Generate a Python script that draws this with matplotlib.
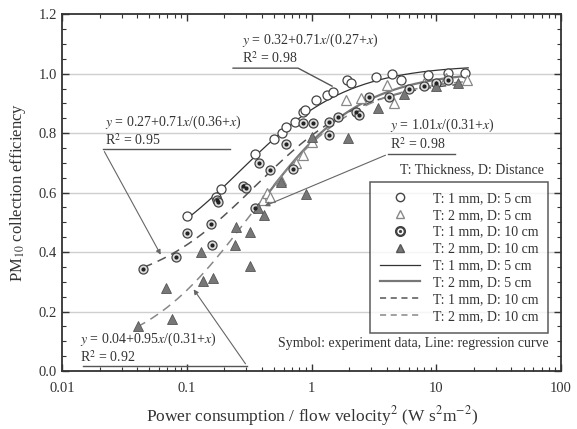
import matplotlib
matplotlib.use("Agg")
import matplotlib.pyplot as plt
from matplotlib.lines import Line2D
from matplotlib.ticker import MultipleLocator, FixedLocator, FixedFormatter, NullFormatter
import numpy as np

plt.rcParams['font.family'] = ['Liberation Serif', 'DejaVu Serif']
plt.rcParams['mathtext.fontset'] = 'stix'

# experiment data
t1d5_x = [0.1, 0.171, 0.189, 0.35, 0.5, 0.582, 0.627, 0.731, 0.85, 0.88, 1.09, 1.34,
          1.48, 1.94, 2.08, 3.29, 4.45, 5.2, 8.5, 12.4, 17.1]
t1d5_y = [0.52, 0.584, 0.611, 0.729, 0.78, 0.801, 0.821, 0.838, 0.872, 0.877, 0.911, 0.928,
          0.939, 0.978, 0.967, 0.989, 1.0, 0.978, 0.995, 1.003, 1.003]

t2d5_x = [0.408, 0.44, 0.46, 0.57, 0.75, 0.85, 1.0, 1.9, 2.5, 4.05, 4.6, 8.0, 12.0, 17.7]
t2d5_y = [0.575, 0.598, 0.584, 0.642, 0.70, 0.726, 0.77, 0.911, 0.917, 0.961, 0.90, 0.97, 0.985, 0.98]

t1d10_x = [0.0447, 0.0817, 0.0995, 0.157, 0.159, 0.175, 0.178, 0.282, 0.30, 0.35, 0.379, 0.46,
           0.627, 0.709, 0.85, 1.02, 1.39, 1.39, 1.62, 2.29, 2.42, 2.9, 4.2, 6.0, 8.0, 10.0, 12.5]
t1d10_y = [0.343, 0.382, 0.463, 0.494, 0.424, 0.575, 0.569, 0.622, 0.615, 0.548, 0.698, 0.676,
           0.765, 0.681, 0.833, 0.833, 0.838, 0.793, 0.855, 0.872, 0.86, 0.922, 0.922, 0.95, 0.96, 0.97, 0.98]

t2d10_x = [0.0408, 0.068, 0.0754, 0.131, 0.135, 0.163, 0.245, 0.249, 0.319, 0.319, 0.37, 0.413,
           0.57, 0.91, 1.0, 1.95, 3.4, 5.5, 10.0, 15.0]
t2d10_y = [0.151, 0.281, 0.174, 0.401, 0.304, 0.312, 0.424, 0.485, 0.466, 0.354, 0.547, 0.524,
           0.636, 0.597, 0.788, 0.785, 0.883, 0.93, 0.96, 0.97]

# regression curves y = a + b x / (c + x), drawn over [xmin, xmax]
fits = {
    "T1D5": [0.32, 0.71, 0.27, 0.1, 18.0],
    "T2D5": [0.0, 1.01, 0.31, 0.35, 18.0],
    "T1D10": [0.27, 0.71, 0.36, 0.045, 18.0],
    "T2D10": [0.04, 0.95, 0.31, 0.04, 18.0],
}

fig = plt.figure(figsize=(5.77, 4.29), dpi=100)
ax = fig.add_axes([0.1075, 0.135, 0.865, 0.832])

ax.set_xscale("log")
ax.set_xlim(0.01, 100)
ax.set_ylim(0.0, 1.2)

for yv in [0.2, 0.4, 0.6, 0.8, 1.0]:
    ax.axhline(yv, color="#cfcfcf", lw=1.0, zorder=0)

def curve(p):
    a, b, c, x0, x1 = p
    xs = np.logspace(np.log10(x0), np.log10(x1), 200)
    return xs, a + b * xs / (c + xs)

x, y = curve(fits["T1D5"])
ax.plot(x, y, color="#333333", lw=0.9, zorder=2)
x, y = curve(fits["T2D5"])
ax.plot(x, y, color="#777777", lw=1.6, zorder=2)
x, y = curve(fits["T1D10"])
ax.plot(x, y, color="#555555", lw=1.1, ls=(0, (6, 4)), zorder=2)
x, y = curve(fits["T2D10"])
ax.plot(x, y, color="#888888", lw=1.1, ls=(0, (6, 4)), zorder=2)

ms = 6.5
ax.plot(t1d5_x, t1d5_y, "o", ms=ms, mfc="white", mec="#444444", mew=0.9, ls="none", zorder=3)
ax.plot(t2d5_x, t2d5_y, "^", ms=ms, mfc="white", mec="#888888", mew=0.9, ls="none", zorder=3)
ax.plot(t1d10_x, t1d10_y, "o", ms=ms, mfc="#dddddd", mec="#444444", mew=0.9, ls="none", zorder=3)
ax.plot(t1d10_x, t1d10_y, "o", ms=2.0, mfc="#222222", mec="#222222", ls="none", zorder=4)
ax.plot(t2d10_x, t2d10_y, "^", ms=ms, mfc="#777777", mec="#555555", mew=0.6, ls="none", zorder=3)

# ticks
ax.set_yticks([0.0, 0.2, 0.4, 0.6, 0.8, 1.0, 1.2])
ax.set_yticklabels(["0.0", "0.2", "0.4", "0.6", "0.8", "1.0", "1.2"])
ax.yaxis.set_minor_locator(MultipleLocator(0.05))
ax.xaxis.set_major_locator(FixedLocator([0.01, 0.1, 1, 10, 100]))
ax.xaxis.set_major_formatter(FixedFormatter(["0.01", "0.1", "1", "10", "100"]))
minors = [m * 10.0 ** e for e in range(-2, 2) for m in range(2, 10)]
ax.xaxis.set_minor_locator(FixedLocator(minors))
ax.xaxis.set_minor_formatter(NullFormatter())
ax.tick_params(which="both", direction="in", top=True, right=True, labelsize=10.5, colors="#333333")
ax.tick_params(which="major", length=5, width=1)
ax.tick_params(which="minor", length=3, width=0.8)
ax.tick_params(axis="x", pad=8)
for s in ax.spines.values():
    s.set_linewidth(1.3)
    s.set_color("#333333")

ax.set_xlabel(r"Power consumption / flow velocity$^2$ (W s$^2$m$^{-2}$)", fontsize=12.5, labelpad=6, color="#333333")
ax.set_ylabel(r"PM$_{10}$ collection efficiency", fontsize=12, labelpad=8, color="#333333")

tc = "#333333"
fs = 10

def px(xp, yp):
    # figure-pixel helper -> axes fraction
    return ((xp - 62) / 499.0, (371 - yp) / 357.0)

def label(xp, y1, y2, eq, r2):
    ax.text(*px(xp, y1), eq, transform=ax.transAxes, fontsize=fs, color=tc, va="center")
    ax.text(*px(xp, y2), r2, transform=ax.transAxes, fontsize=fs, color=tc, va="center")

# annotation 1
label(242, 40, 58, r"$y$ = 0.32+0.71$x$/(0.27+$x$)", r"R$^2$ = 0.98")
ax.plot([px(233, 68)[0], px(298, 68)[0], px(332, 86)[0]],
        [px(233, 68)[1], px(298, 68)[1], px(332, 86)[1]], transform=ax.transAxes, color="#555555", lw=1.0)

# annotation 2
label(105, 122, 140, r"$y$ = 0.27+0.71$x$/(0.36+$x$)", r"R$^2$ = 0.95")
ax.plot([px(103, 149)[0], px(230, 149)[0]], [px(103, 149)[1]] * 2, transform=ax.transAxes, color="#555555", lw=1.0)
ax.annotate("", xy=px(162, 257), xytext=px(103, 149), xycoords="axes fraction",
            arrowprops=dict(arrowstyle="-|>", color="#666666", lw=0.8, mutation_scale=7))

# annotation 3
label(390, 125, 144, r"$y$ = 1.01$x$/(0.31+$x$)", r"R$^2$ = 0.98")
ax.plot([px(388, 154)[0], px(455, 154)[0]], [px(388, 154)[1]] * 2, transform=ax.transAxes, color="#555555", lw=1.0)
ax.annotate("", xy=px(262, 207), xytext=px(388, 154), xycoords="axes fraction",
            arrowprops=dict(arrowstyle="-|>", color="#666666", lw=0.8, mutation_scale=7))

# annotation 4
label(80, 339, 357, r"$y$ = 0.04+0.95$x$/(0.31+$x$)", r"R$^2$ = 0.92")
ax.plot([px(83, 366)[0], px(247, 366)[0]], [px(83, 366)[1]] * 2, transform=ax.transAxes, color="#555555", lw=1.0)
ax.annotate("", xy=px(192, 287), xytext=px(247, 366), xycoords="axes fraction",
            arrowprops=dict(arrowstyle="-|>", color="#666666", lw=0.8, mutation_scale=7))

ax.text(*px(544, 170), "T: Thickness, D: Distance", transform=ax.transAxes, fontsize=fs, color=tc,
        ha="right", va="center")
ax.text(*px(548, 343), "Symbol: experiment data, Line: regression curve", transform=ax.transAxes,
        fontsize=10, color=tc, ha="right", va="center")

handles = [
    Line2D([], [], ls="none", marker="o", ms=6, mfc="white", mec="#444444"),
    Line2D([], [], ls="none", marker="^", ms=6, mfc="white", mec="#888888"),
    Line2D([], [], ls="none", marker=r"$\odot$", ms=7, color="#444444"),
    Line2D([], [], ls="none", marker="^", ms=6, mfc="#777777", mec="#555555"),
    Line2D([], [], color="#333333", lw=0.9),
    Line2D([], [], color="#777777", lw=1.6),
    Line2D([], [], color="#555555", lw=1.1, ls=(0, (4, 3))),
    Line2D([], [], color="#888888", lw=1.1, ls=(0, (4, 3))),
]
labels = ["T: 1 mm, D: 5 cm", "T: 2 mm, D: 5 cm", "T: 1 mm, D: 10 cm", "T: 2 mm, D: 10 cm",
          "T: 1 mm, D: 5 cm", "T: 2 mm, D: 5 cm", "T: 1 mm, D: 10 cm", "T: 2 mm, D: 10 cm"]
leg = ax.legend(handles, labels, loc="upper right", bbox_to_anchor=px(548, 182),
                fontsize=10, frameon=True, fancybox=False, handlelength=2.9,
                labelspacing=0.28, borderpad=0.7, handletextpad=0.9, borderaxespad=0)
leg.get_frame().set_edgecolor("#333333")
leg.get_frame().set_linewidth(1.1)
for t in leg.get_texts():
    t.set_color(tc)

fig.savefig("out.png", dpi=100)
